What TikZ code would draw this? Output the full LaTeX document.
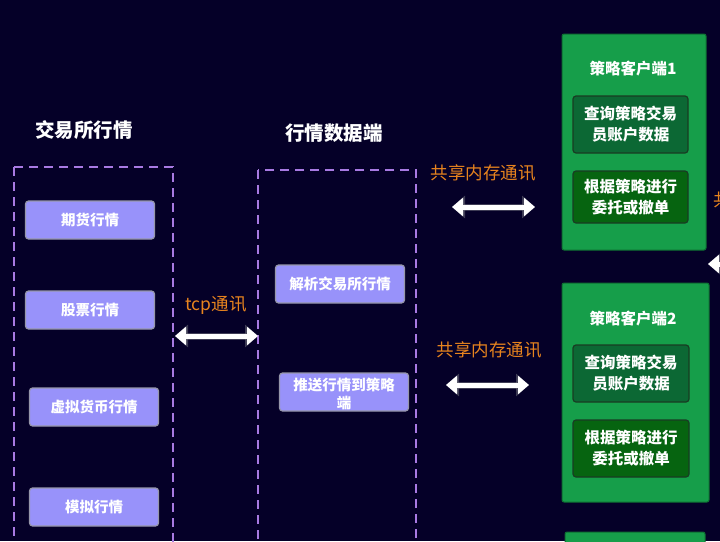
\documentclass[tikz,border=0pt]{standalone}
\usepackage{fontspec}
\setmainfont{Noto Sans CJK SC}
\usetikzlibrary{arrows.meta}
\definecolor{bg}{RGB}{5,0,40}
\definecolor{lav}{RGB}{152,146,250}
\definecolor{lavglow}{RGB}{150,150,170}
\definecolor{dashc}{RGB}{168,122,226}
\definecolor{orangec}{RGB}{232,132,30}
\definecolor{grc}{RGB}{22,158,74}
\definecolor{grborder}{RGB}{14,110,50}
\definecolor{ingA}{RGB}{12,104,52}
\definecolor{ingB}{RGB}{6,100,16}
\definecolor{inborder}{RGB}{25,60,35}
\definecolor{arrowglow}{RGB}{120,120,130}
\begin{document}
\begin{tikzpicture}[x=1pt,y=-1pt,
  title/.style={text=white,font=\bfseries\fontsize{19.5}{22}\selectfont},
  pbox/.style={rectangle,rounded corners=3pt,fill=lav,draw=lavglow,line width=1.2pt,
    minimum width=129pt,minimum height=38pt,text=white,align=center,inner sep=2pt,
    font=\bfseries\fontsize{14.5}{18}\selectfont},
  container/.style={draw=dashc,line width=1.6pt,dash pattern=on 9pt off 6pt},
  olabel/.style={text=orangec,font=\fontsize{17.5}{20}\selectfont},
  linkglow/.style={draw=arrowglow,line width=7pt,{Triangle[width=22pt,length=13pt]}-{Triangle[width=22pt,length=13pt]}},
  link/.style={draw=white,line width=5pt,{Triangle[width=18pt,length=11pt]}-{Triangle[width=18pt,length=11pt]}},
  gbox/.style={rectangle,rounded corners=2pt,fill=grc,draw=grborder,line width=1pt},
  gtitle/.style={text=white,font=\bfseries\fontsize{15.5}{17}\selectfont},
  ibox/.style={rectangle,rounded corners=3pt,draw=inborder,line width=1.2pt,text=white,align=center,
    inner sep=2pt,font=\bfseries\fontsize{15.5}{21}\selectfont}
]
\useasboundingbox (0,0) rectangle (720,541);
\clip (0,0) rectangle (720,541);
\fill[bg] (0,0) rectangle (720,541);

% titles
\node[title] (t1) at (84,130) {交易所行情};
\node[title] (t2) at (334,133) {行情数据端};

% dashed containers
\draw[container] (14,167) rectangle (173,620);
\draw[container] (258,170) rectangle (416,620);

% left boxes
\node[pbox] (qh) at (90,220) {期货行情};
\node[pbox] (gp) at (90,310) {股票行情};
\node[pbox] (xn) at (94,407) {虚拟货币行情};
\node[pbox] (mn) at (94,507) {模拟行情};

% middle boxes
\node[pbox] (jx) at (340,284) {解析交易所行情};
\node[pbox] (ts) at (344,392) {};
\node[text=white,align=center,font=\bfseries\fontsize{14.5}{18}\selectfont] (tst) at (344,394) {推送行情到策略\\端};

% tcp link
\coordinate (tcpL) at (175,336);
\coordinate (tcpR) at (258,336);
\draw[linkglow,opacity=0.5] (tcpL) -- (tcpR);
\draw[link] (tcpL) -- (tcpR);
\node[olabel] (tcp) at (216,305) {tcp通讯};

% shared memory links
\coordinate (s1L) at (452,207);
\coordinate (s1R) at (535,207);
\draw[linkglow,opacity=0.5] (s1L) -- (s1R);
\draw[link] (s1L) -- (s1R);
\node[olabel] (sm1) at (483,173) {共享内存通讯};
\coordinate (s2L) at (446,385);
\coordinate (s2R) at (529,385);
\draw[linkglow,opacity=0.5] (s2L) -- (s2R);
\draw[link] (s2L) -- (s2R);
\node[olabel] (sm2) at (489,350) {共享内存通讯};

% right partial link
\coordinate (s3L) at (708,264);
\coordinate (s3R) at (800,264);
\draw[linkglow,opacity=0.5] (s3L) -- (s3R);
\draw[link] (s3L) -- (s3R);
\node[olabel,anchor=west,inner sep=0pt] (sm3) at (713,200) {共享内存通讯};

% strategy client 1
\node[gbox,minimum width=144pt,minimum height=216pt] (c1) at (634,142) {};
\node[gtitle] (c1t) at (633,69) {策略客户端1};
\node[ibox,fill=ingA,minimum width=115pt,minimum height=57pt] (c1a) at (630.5,124.5) {查询策略交易\\员账户数据};
\node[ibox,fill=ingB,minimum width=115pt,minimum height=52pt] (c1b) at (630.5,197) {根据策略进行\\委托或撤单};

% strategy client 2
\node[gbox,minimum width=147pt,minimum height=219pt] (c2) at (635.5,392.5) {};
\node[gtitle] (c2t) at (633,319) {策略客户端2};
\node[ibox,fill=ingA,minimum width=116pt,minimum height=57pt] (c2a) at (631,373.5) {查询策略交易\\员账户数据};
\node[ibox,fill=ingB,minimum width=116pt,minimum height=57pt] (c2b) at (631,448.5) {根据策略进行\\委托或撤单};

% strategy client 3 (partial)
\node[gbox,minimum width=140pt,minimum height=68pt] (c3) at (635,566) {};
\end{tikzpicture}
\end{document}
